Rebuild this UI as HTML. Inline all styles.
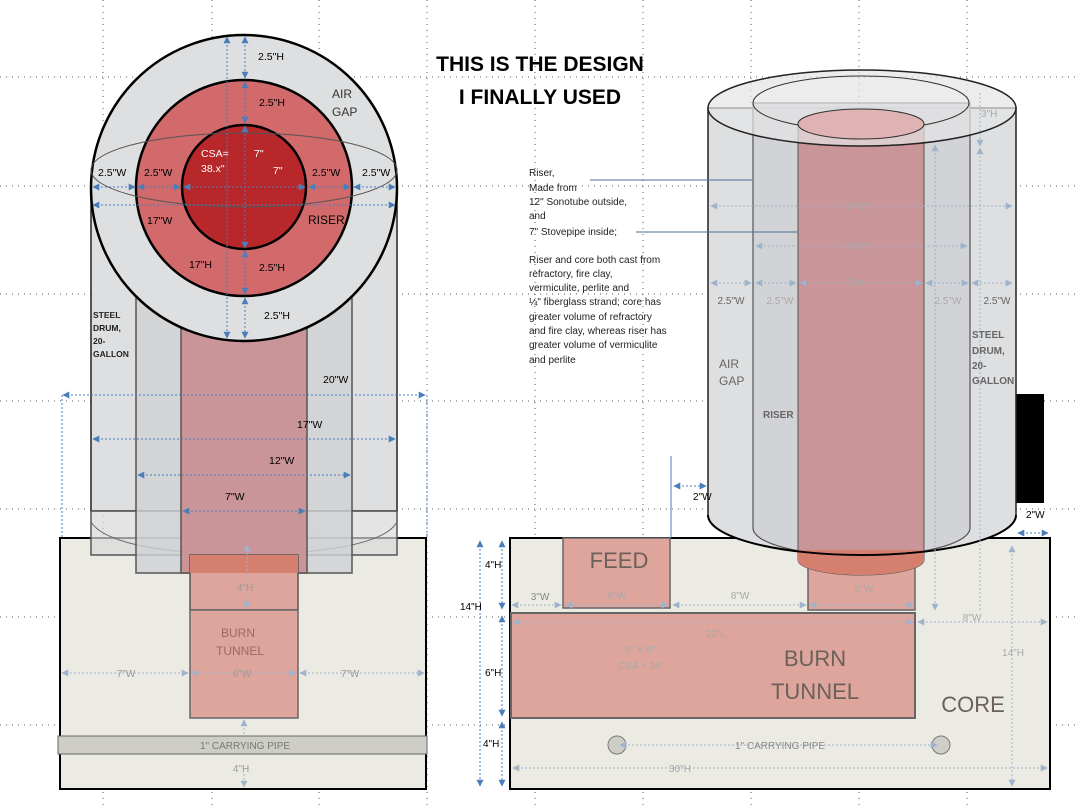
<!DOCTYPE html>
<html><head><meta charset="utf-8"><style>
html,body{margin:0;padding:0;background:#fff}
svg{display:block}
text{font-family:"Liberation Sans",sans-serif}
</style></head><body>
<svg width="1076" height="807" viewBox="0 0 1076 807" xmlns="http://www.w3.org/2000/svg">
<defs>
<marker id="a" viewBox="0 0 10 10" refX="9" refY="5" markerWidth="7" markerHeight="7" orient="auto-start-reverse"><path d="M0,0L10,5L0,10z" fill="#4a7ebb"/></marker>
<marker id="g" viewBox="0 0 10 10" refX="9" refY="5" markerWidth="7" markerHeight="7" orient="auto-start-reverse"><path d="M0,0L10,5L0,10z" fill="#9fb3cc"/></marker>
</defs>
<!-- grid dots -->
<g stroke="#555" stroke-width="1" stroke-dasharray="1 5">
<line x1="0" y1="77" x2="1076" y2="77"/><line x1="0" y1="186" x2="1076" y2="186"/><line x1="0" y1="294" x2="1076" y2="294"/><line x1="0" y1="401" x2="1076" y2="401"/><line x1="0" y1="509" x2="1076" y2="509"/><line x1="0" y1="617" x2="1076" y2="617"/><line x1="0" y1="725" x2="1076" y2="725"/>
<line x1="103" y1="0" x2="103" y2="807"/><line x1="212" y1="0" x2="212" y2="807"/><line x1="319" y1="0" x2="319" y2="807"/><line x1="427" y1="0" x2="427" y2="807"/><line x1="535" y1="0" x2="535" y2="807"/><line x1="643" y1="0" x2="643" y2="807"/><line x1="751" y1="0" x2="751" y2="807"/><line x1="859" y1="0" x2="859" y2="807"/><line x1="967" y1="0" x2="967" y2="807"/>
</g>

<!-- LEFT: core base -->
<rect x="60" y="538" width="366" height="251" fill="#ecebe3" stroke="#000" stroke-width="2"/>
<rect x="58" y="736" width="369" height="18" fill="#cfcec6" stroke="#666"/>
<text x="245" y="749" font-size="10" fill="#777" text-anchor="middle">1" CARRYING PIPE</text>
<!-- outer cylinder -->
<rect x="91" y="180" width="306" height="331" fill="#dedfe0" stroke="#222" stroke-width="1.5"/>
<rect x="91" y="511" width="306" height="44" fill="#d8d8d8" fill-opacity="0.7" stroke="#555" stroke-width="1.5"/>
<path d="M91,522 Q110,552 245,555 Q380,552 397,522" fill="none" stroke="#666"/>
<rect x="136" y="200" width="216" height="373" fill="#d0d1d3" fill-opacity="0.8" stroke="#555" stroke-width="1.5"/>
<rect x="181" y="200" width="126" height="373" fill="#c99598" stroke="#555" stroke-width="1.5"/>
<rect x="190" y="555" width="108" height="55" fill="#dea59c" stroke="#555" stroke-width="1.5"/>
<rect x="190" y="555" width="108" height="18" fill="#d5806f"/>
<rect x="190" y="610" width="108" height="108" fill="#dea59c" stroke="#666" stroke-width="1.5"/>
<text x="238" y="637" font-size="12" fill="#9a6a66" text-anchor="middle">BURN</text>
<text x="240" y="655" font-size="12" fill="#9a6a66" text-anchor="middle">TUNNEL</text>
<!-- circles -->
<circle cx="244" cy="188" r="153" fill="#dedfe0" stroke="#000" stroke-width="2.5"/>
<circle cx="244" cy="188" r="108" fill="#d26a6c" stroke="#000" stroke-width="2.5"/>
<circle cx="244" cy="187" r="62" fill="#b8272a" stroke="#000" stroke-width="2.5"/>
<ellipse cx="244" cy="170" rx="153" ry="37" fill="none" stroke="#555" stroke-width="1"/>
<!-- left dims -->
<g stroke="#4a7ebb" stroke-width="1" stroke-dasharray="2 2" fill="none">
<line x1="245" y1="37" x2="245" y2="78" marker-start="url(#a)" marker-end="url(#a)"/>
<line x1="245" y1="82" x2="245" y2="123" marker-start="url(#a)" marker-end="url(#a)"/>
<line x1="245" y1="126" x2="245" y2="248" marker-start="url(#a)" marker-end="url(#a)"/>
<line x1="245" y1="251" x2="245" y2="294" marker-start="url(#a)" marker-end="url(#a)"/>
<line x1="245" y1="298" x2="245" y2="338" marker-start="url(#a)" marker-end="url(#a)"/>
<line x1="227" y1="37" x2="227" y2="338" marker-start="url(#a)" marker-end="url(#a)"/>
<line x1="93" y1="187" x2="135" y2="187" marker-start="url(#a)" marker-end="url(#a)"/>
<line x1="138" y1="187" x2="180" y2="187" marker-start="url(#a)" marker-end="url(#a)"/>
<line x1="184" y1="187" x2="305" y2="187" marker-start="url(#a)" marker-end="url(#a)"/>
<line x1="309" y1="187" x2="350" y2="187" marker-start="url(#a)" marker-end="url(#a)"/>
<line x1="354" y1="187" x2="395" y2="187" marker-start="url(#a)" marker-end="url(#a)"/>
<line x1="93" y1="205" x2="395" y2="205" marker-start="url(#a)" marker-end="url(#a)"/>
<line x1="63" y1="395" x2="425" y2="395" marker-start="url(#a)" marker-end="url(#a)"/>
<line x1="62" y1="395" x2="62" y2="538"/><line x1="427" y1="395" x2="427" y2="538"/>
<line x1="93" y1="439" x2="395" y2="439" marker-start="url(#a)" marker-end="url(#a)"/>
<line x1="138" y1="475" x2="350" y2="475" marker-start="url(#a)" marker-end="url(#a)"/>
<line x1="183" y1="511" x2="305" y2="511" marker-start="url(#a)" marker-end="url(#a)"/>
</g>
<g stroke="#9fb3cc" stroke-width="1" stroke-dasharray="2 2" fill="none">
<line x1="247" y1="545" x2="247" y2="608" marker-start="url(#g)" marker-end="url(#g)"/>
<line x1="62" y1="673" x2="188" y2="673" marker-start="url(#g)" marker-end="url(#g)"/>
<line x1="192" y1="673" x2="296" y2="673" marker-start="url(#g)" marker-end="url(#g)"/>
<line x1="300" y1="673" x2="424" y2="673" marker-start="url(#g)" marker-end="url(#g)"/>
<line x1="244" y1="720" x2="244" y2="736" marker-start="url(#g)"/>
<line x1="244" y1="774" x2="244" y2="787" marker-end="url(#g)"/>
</g>
<g font-size="10.5" fill="#000">
<text x="258" y="60">2.5"H</text><text x="259" y="106">2.5"H</text>
<text x="332" y="98" font-size="12" fill="#333">AIR</text><text x="332" y="116" font-size="12" fill="#333">GAP</text>
<text x="98" y="176">2.5"W</text><text x="144" y="176">2.5"W</text><text x="312" y="176">2.5"W</text><text x="362" y="176">2.5"W</text>
<text x="201" y="157" fill="#fff">CSA=</text><text x="201" y="172" fill="#fff">38.x"</text>
<text x="254" y="157" fill="#fff">7"</text><text x="273" y="174" fill="#fff">7"</text>
<text x="147" y="224">17"W</text><text x="308" y="224" font-size="12">RISER</text>
<text x="189" y="268">17"H</text><text x="259" y="271">2.5"H</text><text x="264" y="319">2.5"H</text>
<text x="323" y="383">20"W</text><text x="297" y="428">17"W</text><text x="269" y="464">12"W</text><text x="225" y="500">7"W</text>
</g>
<g font-size="8.5" font-weight="bold" fill="#222"><text x="93" y="318">STEEL</text><text x="93" y="331">DRUM,</text><text x="93" y="344">20-</text><text x="93" y="357">GALLON</text></g>
<g font-size="10" fill="#999" text-anchor="middle"><text x="245" y="591">4"H</text><text x="242" y="677">6"W</text><text x="126" y="677">7"W</text><text x="350" y="677">7"W</text><text x="241" y="772">4"H</text></g>

<!-- title -->
<text x="540" y="71" font-size="21" font-weight="bold" text-anchor="middle">THIS IS THE DESIGN</text>
<text x="540" y="104" font-size="21" font-weight="bold" text-anchor="middle">I FINALLY USED</text>

<!-- RIGHT: core -->
<rect x="510" y="538" width="540" height="251" fill="#ecebe3" stroke="#000" stroke-width="2"/>
<rect x="563" y="538" width="107" height="70" fill="#dea59c" stroke="#666" stroke-width="1.5"/>
<text x="619" y="568" font-size="22" fill="#6b605a" text-anchor="middle">FEED</text>
<rect x="511" y="613" width="404" height="105" fill="#dea59c" stroke="#666" stroke-width="2"/>
<text x="815" y="666" font-size="22" fill="#6b605a" text-anchor="middle">BURN</text>
<text x="815" y="699" font-size="22" fill="#6b605a" text-anchor="middle">TUNNEL</text>
<text x="973" y="712" font-size="22" fill="#6b605a" text-anchor="middle">CORE</text>
<circle cx="617" cy="745" r="9" fill="#cfcec6" stroke="#777"/>
<circle cx="941" cy="745" r="9" fill="#cfcec6" stroke="#777"/>
<!-- cylinder -->
<rect x="1016" y="394" width="28" height="109" fill="#000"/>
<path d="M708,108 L708,515 A154,40 0 0 0 1016,515 L1016,108 Z" fill="#dedfe0" stroke="#222" stroke-width="1.5"/>
<path d="M753,103 L753,528 A108,28 0 0 0 970,528 L970,103 Z" fill="#d0d1d3" fill-opacity="0.85" stroke="#555" stroke-width="1.2"/>
<rect x="808" y="538" width="107" height="72" fill="#dea59c" stroke="#666" stroke-width="1.5"/>
<path d="M798,123 L798,560 A63,15 0 0 0 924,560 L924,123 Z" fill="#c99598" stroke="#555" stroke-width="1"/>
<path d="M798,550 L798,560 A63,15 0 0 0 924,560 L924,550 Z" fill="#d5806f"/>
<ellipse cx="862" cy="108" rx="154" ry="38" fill="#e4e4e5" fill-opacity="0.7" stroke="#222" stroke-width="1.5"/>
<ellipse cx="861" cy="103" rx="108" ry="27" fill="none" stroke="#333" stroke-width="1"/>
<ellipse cx="861" cy="124" rx="63" ry="15" fill="#dfb2b4" stroke="#333" stroke-width="1"/>
<path d="M708,515 A154,40 0 0 0 1016,515" fill="none" stroke="#000" stroke-width="2"/>
<!-- right dims -->
<g stroke="#9fb3cc" stroke-width="1" stroke-dasharray="2 2" fill="none">
<line x1="711" y1="206" x2="1012" y2="206" marker-start="url(#g)" marker-end="url(#g)"/>
<line x1="756" y1="246" x2="967" y2="246" marker-start="url(#g)" marker-end="url(#g)"/>
<line x1="756" y1="283" x2="796" y2="283" marker-start="url(#g)" marker-end="url(#g)"/>
<line x1="800" y1="283" x2="922" y2="283" marker-start="url(#g)" marker-end="url(#g)"/>
<line x1="926" y1="283" x2="968" y2="283" marker-start="url(#g)" marker-end="url(#g)"/>
<line x1="711" y1="283" x2="751" y2="283" marker-start="url(#g)" marker-end="url(#g)"/>
<line x1="972" y1="283" x2="1012" y2="283" marker-start="url(#g)" marker-end="url(#g)"/>
<line x1="980" y1="93" x2="980" y2="146" marker-end="url(#g)"/><line x1="980" y1="148" x2="980" y2="160" marker-start="url(#g)"/>
<line x1="980" y1="160" x2="980" y2="612"/>
<line x1="935" y1="145" x2="935" y2="610" marker-start="url(#g)" marker-end="url(#g)"/>
<line x1="512" y1="605" x2="561" y2="605" marker-start="url(#g)" marker-end="url(#g)"/>
<line x1="566" y1="605" x2="668" y2="605" marker-start="url(#g)" marker-end="url(#g)"/>
<line x1="673" y1="605" x2="806" y2="605" marker-start="url(#g)" marker-end="url(#g)"/>
<line x1="810" y1="605" x2="913" y2="605" marker-start="url(#g)" marker-end="url(#g)"/>
<line x1="513" y1="622" x2="913" y2="622" marker-start="url(#g)" marker-end="url(#g)"/>
<line x1="918" y1="622" x2="1047" y2="622" marker-start="url(#g)" marker-end="url(#g)"/>
<line x1="1012" y1="546" x2="1012" y2="786" marker-start="url(#g)" marker-end="url(#g)"/>
<line x1="620" y1="745" x2="937" y2="745" marker-start="url(#g)" marker-end="url(#g)"/>
<line x1="513" y1="768" x2="1047" y2="768" marker-start="url(#g)" marker-end="url(#g)"/>
</g>
<g stroke="#4a7ebb" stroke-width="1" stroke-dasharray="2 2" fill="none">
<line x1="480" y1="541" x2="480" y2="786" marker-start="url(#a)" marker-end="url(#a)"/>
<line x1="502" y1="541" x2="502" y2="609" marker-start="url(#a)" marker-end="url(#a)"/>
<line x1="502" y1="616" x2="502" y2="716" marker-start="url(#a)" marker-end="url(#a)"/>
<line x1="502" y1="722" x2="502" y2="786" marker-start="url(#a)" marker-end="url(#a)"/>
<line x1="674" y1="486" x2="706" y2="486" marker-start="url(#a)" marker-end="url(#a)"/>
<line x1="1018" y1="533" x2="1048" y2="533" marker-start="url(#a)" marker-end="url(#a)"/>
</g>
<line x1="671" y1="456" x2="671" y2="538" stroke="#4a7ebb"/>
<line x1="590" y1="180" x2="752" y2="180" stroke="#4a6f9c"/>
<line x1="636" y1="232" x2="797" y2="232" stroke="#4a6f9c"/>
<g font-size="10" fill="#a8a8a8" text-anchor="middle">
<text x="857" y="210">17"W</text><text x="857" y="250">12"W</text><text x="855" y="286">7"W</text>
<text x="981" y="117" text-anchor="start">3"H</text>
<text x="617" y="599">6"W</text><text x="740" y="599">8"W</text><text x="540" y="600" fill="#888">3"W</text><text x="864" y="592">6"W</text>
<text x="972" y="621">8"W</text><text x="716" y="637">22"L</text>
<text x="640" y="653">6" X 6"</text><text x="641" y="669">CSA = 36"</text>
<text x="1013" y="656">14"H</text><text x="780" y="749" fill="#888">1" CARRYING PIPE</text><text x="680" y="772">30"H</text>
</g>
<g font-size="10" fill="#666" text-anchor="middle"><text x="731" y="304">2.5"W</text><text x="780" y="304" fill="#aaa">2.5"W</text><text x="948" y="304" fill="#aaa">2.5"W</text><text x="997" y="304">2.5"W</text></g>
<g font-size="10" fill="#000"><text x="693" y="500">2"W</text><text x="1026" y="518">2"W</text>
<text x="485" y="568">4"H</text><text x="460" y="610">14"H</text><text x="485" y="676">6"H</text><text x="483" y="747">4"H</text></g>
<g font-size="12" fill="#666"><text x="719" y="368">AIR</text><text x="719" y="385">GAP</text></g>
<text x="763" y="418" font-size="10" font-weight="bold" fill="#666">RISER</text>
<g font-size="10" font-weight="bold" fill="#666"><text x="972" y="338">STEEL</text><text x="972" y="354">DRUM,</text><text x="972" y="369">20-</text><text x="972" y="384">GALLON</text></g>
<g font-size="10" fill="#222">
<text x="529" y="176">Riser,</text><text x="529" y="191">Made from</text><text x="529" y="205">12" Sonotube  outside,</text><text x="529" y="219">and</text><text x="529" y="235">7" Stovepipe inside;</text>
<text x="529" y="263">Riser and core both cast from</text><text x="529" y="277">refractory, fire clay,</text><text x="529" y="291">vermiculite, perlite and</text><text x="529" y="305">¼" fiberglass strand; core has</text><text x="529" y="320">greater volume of refractory</text><text x="529" y="334">and fire clay, whereas riser has</text><text x="529" y="348">greater volume of vermiculite</text><text x="529" y="363">and perlite</text>
</g>
</svg>
</body></html>
